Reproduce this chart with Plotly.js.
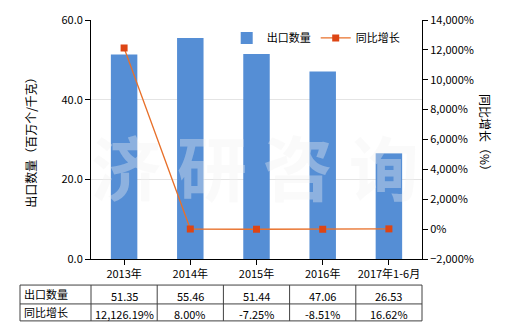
<!DOCTYPE html>
<html><head><meta charset="utf-8">
<script src="https://cdn.plot.ly/plotly-3.0.1.min.js"></script>
<style>body{margin:0}#c{width:520px;height:330px}</style>
</head><body><div id="c"></div>
<script>
const categories = ['2013年','2014年','2015年','2016年','2017年1-6月'];
const exportQty = [51.35, 55.46, 51.44, 47.06, 26.53];
const yoyGrowth = [12126.19, 8.00, -7.25, -8.51, 16.62];
const qtyLabels = ['51.35','55.46','51.44','47.06','26.53'];
const growthLabels = ['12,126.19%','8.00%','-7.25%','-8.51%','16.62%'];
const rowNames = ['出口数量','同比增长'];

const FONT = '"Noto Sans CJK SC", "Microsoft YaHei", sans-serif';
const barColor = '#558ED5';
const lineColor = '#E8702A';
const markColor = '#DD4514';

const traces = [
  {type:'bar', x:categories, y:exportQty, name:rowNames[0], marker:{color:barColor}, width:0.4, yaxis:'y'},
  {type:'scatter', mode:'lines+markers', x:categories, y:yoyGrowth, name:rowNames[1], yaxis:'y2',
   line:{color:lineColor, width:1.3}, marker:{symbol:'square', size:7, color:markColor}}
];

// table geometry (paper coordinates)
const yTop = -0.109, yMid = -0.188, yBot = -0.259, xLeft = -0.2145;
const shapes = [];
const lineStyle = {color:'#404040', width:1};
[yTop, yMid, yBot].forEach(y => shapes.push({type:'line', xref:'paper', yref:'paper', x0:xLeft, x1:1, y0:y, y1:y, line:lineStyle}));
[xLeft, 0, 0.2, 0.4, 0.6, 0.8, 1].forEach(x => shapes.push({type:'line', xref:'paper', yref:'paper', x0:x, x1:x, y0:yTop, y1:yBot, line:lineStyle}));

const annotations = [];
const tf = {family:FONT, size:11, color:'#000'};
rowNames.forEach((n,i) => annotations.push({xref:'paper', yref:'paper', x:xLeft+0.006, y:i===0?(yTop+yMid)/2:(yMid+yBot)/2, text:n, showarrow:false, xanchor:'left', yanchor:'middle', font:tf}));
categories.forEach((c,i) => {
  annotations.push({xref:'x', yref:'paper', x:c, y:(yTop+yMid)/2 - 0.005, text:qtyLabels[i], showarrow:false, yanchor:'middle', font:tf});
  annotations.push({xref:'x', yref:'paper', x:c, y:(yMid+yBot)/2 - 0.005, text:growthLabels[i], showarrow:false, yanchor:'middle', font:tf});
});
// watermark
annotations.push({xref:'paper', yref:'paper', x:0.494, y:0.393, text:'<b>济 研 咨 询</b>', showarrow:false,
  font:{family:FONT, size:70, color:'rgba(240,240,240,0.36)'}, borderpad:0});
// right axis title, reading top to bottom
annotations.push({xref:'paper', yref:'paper', x:1.19, y:0.515, text:'同比增长（%）', textangle:90, showarrow:false,
  xanchor:'center', yanchor:'middle', font:{family:FONT, size:12, color:'#000'}});

const layout = {
  width:520, height:330,
  margin:{l:91, r:98, t:20, b:71},
  paper_bgcolor:'#fff', plot_bgcolor:'#fff',
  font:{family:FONT, size:11, color:'#000'},
  showlegend:true,
  legend:{orientation:'h', x:0.41, y:0.925, xanchor:'left', yanchor:'middle', bgcolor:'rgba(0,0,0,0)', font:{family:FONT, size:11}, traceorder:'normal'},
  bargap:0.6,
  xaxis:{type:'category', showline:true, linecolor:'#000', linewidth:1, ticks:'outside', ticklen:5, tickcolor:'#000', showgrid:false,
    tickfont:{family:FONT, size:11}},
  yaxis:{range:[0,60], dtick:20, tickformat:'.1f', showline:true, linecolor:'#000', ticks:'outside', ticklen:5, tickcolor:'#000',
    gridcolor:'#E4E4E4', zeroline:false, tickfont:{family:FONT, size:11},
    title:{text:'出口数量（百万个/千克）', font:{family:FONT, size:12}, standoff:22}},
  yaxis2:{overlaying:'y', side:'right', range:[-2000,14000], dtick:2000, tickformat:',d', ticksuffix:'%', showline:true, linecolor:'#000',
    ticks:'outside', ticklen:5, tickcolor:'#000', showgrid:false, zeroline:false, tickfont:{family:FONT, size:11}},
  shapes:shapes, annotations:annotations
};
Plotly.newPlot('c', traces, layout, {displayModeBar:false, staticPlot:true});
</script></body></html>
